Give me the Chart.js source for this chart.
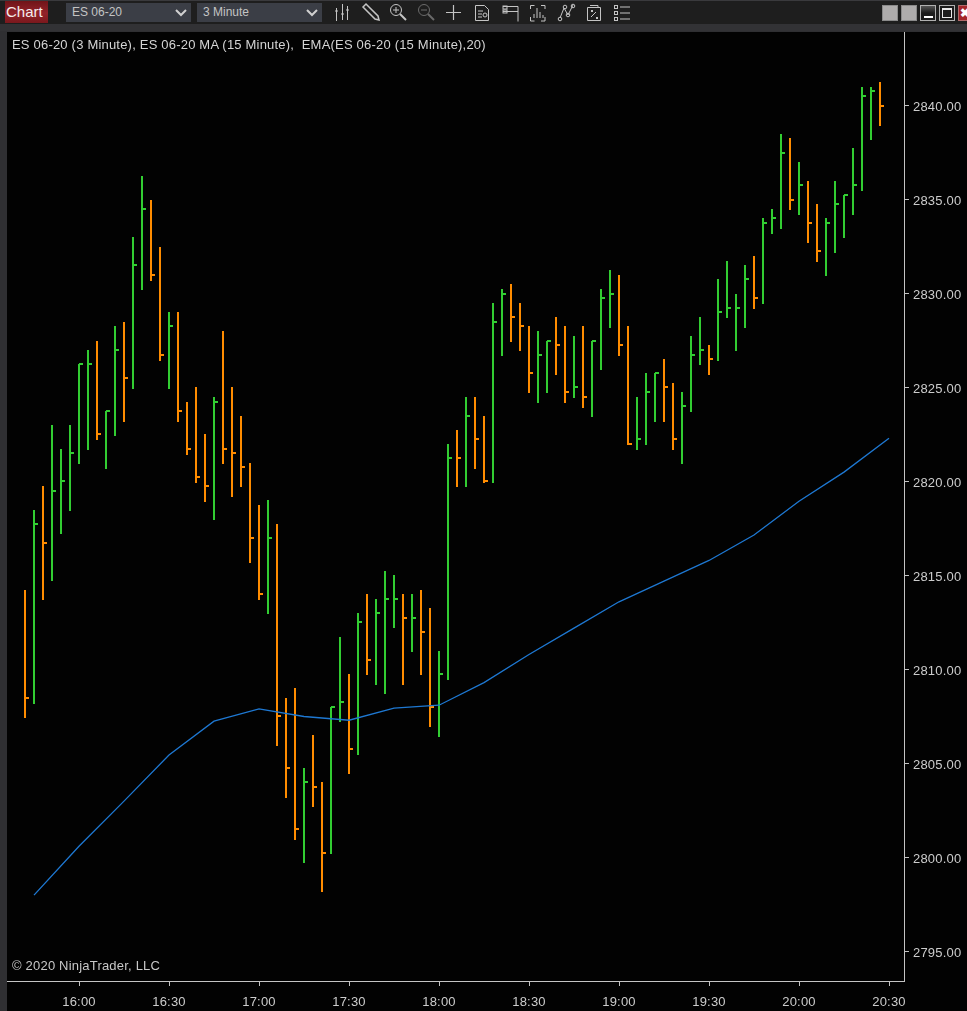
<!DOCTYPE html>
<html>
<head>
<meta charset="utf-8">
<title>ES 06-20</title>
<script src="https://cdn.jsdelivr.net/npm/chart.js@4"></script>
<style>
html,body{margin:0;padding:0;background:#2f2f32;width:967px;height:1011px;overflow:hidden;font-family:"Liberation Sans",Arial,sans-serif}
#wrap{position:relative;width:967px;height:1011px;overflow:hidden}
#plotbg{position:absolute;left:7px;top:32px;width:960px;height:979px;background:#020202}
canvas{position:absolute;left:0;top:0}
#bar{position:absolute;left:0;top:1px;width:967px;height:23px;background:#1e1e1e}
#topline{position:absolute;left:0;top:0;width:967px;height:1px;background:#3a3a3d}
#band{position:absolute;left:0;top:24px;width:967px;height:7px;background:#323235}
#brand{position:absolute;left:5px;top:1px;width:43px;height:22px;line-height:22px;color:#f4ecec;font-size:15px;background:linear-gradient(#6f1418,#93222a 55%,#7a181d);padding-left:1px;box-sizing:border-box}
.dd{position:absolute;top:3px;width:125px;height:19px;line-height:19px;background:#3b3e46;color:#c4c4c4;font-size:12px;text-indent:6px}
.dd svg{position:absolute;right:4px;top:6px}
#icons{position:absolute;left:0;top:0}
.wb{position:absolute;top:5px;width:16px;height:16px;box-sizing:border-box;border:1px solid #8a8a8a}
.t{position:absolute;color:#d4d4d4;font-size:13px;letter-spacing:.2px;white-space:pre;line-height:14px}
</style>
</head>
<body>
<div id="wrap">
<div id="plotbg"></div>
<canvas id="c" width="967" height="1011"></canvas>
<div id="topline"></div><div id="bar"></div><div id="band"></div>
<div id="brand">Chart</div>
<div class="dd" style="left:66px">ES 06-20<svg width="12" height="8"><path d="M1 1l5 5 5-5" stroke="#d0d0d0" stroke-width="2" fill="none"/></svg></div>
<div class="dd" style="left:197px">3 Minute<svg width="12" height="8"><path d="M1 1l5 5 5-5" stroke="#d0d0d0" stroke-width="2" fill="none"/></svg></div>
<svg id="icons" width="967" height="24" fill="none" stroke="#c4c4c4" stroke-width="1">
<path d="M336.5 8v13M342.5 4v16M347.5 6v14M335 11h3M341 14h3M346 10h3"/>
<path d="M363 7l3-3 12 12 1 4-4-1z" stroke-width="1.5"/>
<circle cx="396" cy="10" r="5.5"/><path d="M400 14l6 6" stroke-width="2"/><path d="M393 10h6M396 7v6"/>
<g stroke="#6a6a6a"><circle cx="424" cy="10" r="5.5"/><path d="M428 14l6 6" stroke-width="2"/><path d="M421 10h6"/></g>
<path d="M446 12.5h15M453.5 5v15" stroke-width="1.2"/>
<path d="M475.5 5.5h9l4 4v11h-13zM478 11h5M478 14h4M478 17h4"/><circle cx="485" cy="15" r="2"/>
<path d="M503 6.5h15v15M503 11.5h15" /><rect x="503" y="6" width="4" height="3"/><rect x="503" y="10" width="4" height="3"/>
<path d="M530.5 9V5.5h4M541 5.5h4V9M530.5 17v4h4M541 21h4v-4M534 18v-4M537 18V8M540 18v-6M543 18v-3" />
<path d="M560 18l4-10 4 7 5-10"/><circle cx="560" cy="19" r="1.8"/><circle cx="565" cy="7" r="1.8"/><circle cx="568" cy="15" r="1.8"/><circle cx="573" cy="6" r="1.8"/>
<path d="M587.5 7.5h13v13h-13zM590 5.5h8v2M591 10l2 2M593 10l-2 2M596 17l2 2M598 17l-2 2M591 17l5-5"/>
<rect x="614.5" y="5.5" width="3" height="3"/><rect x="614.5" y="11.5" width="3" height="3"/><rect x="614.5" y="17.5" width="3" height="3"/><path d="M620 7h10M620 13h10M620 19h10"/>
</svg>
<div class="wb" style="left:882px;background:#aeacac"></div>
<div class="wb" style="left:901px;background:#aeacac"></div>
<div class="wb" style="left:920px;background:linear-gradient(#555,#1b1b1b 50%);border-color:#b0b0b0"><div style="position:absolute;left:3px;top:10px;width:9px;height:2px;background:#fff"></div></div>
<div class="wb" style="left:939px;background:#1b1b1b;border-color:#b0b0b0"><div style="position:absolute;left:2px;top:2px;width:10px;height:10px;border:1px solid #e8e8e8;border-top-width:2px;box-sizing:border-box"></div></div>
<div class="wb" style="left:958px;width:12px;background:#a3252a;border-color:#b06a6a"><div style="position:absolute;left:1px;top:1px;color:#fff;font-size:12px;line-height:12px;font-weight:bold">&#10006;</div></div>
<div class="t" style="left:12px;top:38px">ES 06-20 (3 Minute), ES 06-20 MA (15 Minute),  EMA(ES 06-20 (15 Minute),20)</div>
<div class="t" style="left:12px;top:959px;color:#c8c8c8">© 2020 NinjaTrader, LLC</div>
</div>
<script>
// Bars are 3 minutes apart; first bar is 15:42, last is 20:27 (minutes after midnight).
const firstBarMinute = 942;
const barStepMinutes = 3;
const highs = [2814.25,2818.5,2819.75,2823,2821.75,2823,2826.25,2827,2827.5,2823.75,2828.25,2828.5,2833,2836.25,2835,2832.5,
2829,2829,2824.25,2825,2822.5,2824.5,2828,2825,2823.5,2821,2818.75,2819,2817.75,2808.5,2809,2804.75,
2806.5,2804,2808,2811.75,2809.75,2813,2814,2813.75,2815.25,2815,2814,2814,2814.25,2813.25,2811,2822,
2822.75,2824.5,2824.5,2823.5,2829.5,2830.25,2830.5,2829.5,2828.25,2828,2827.5,2828.75,2828.25,2827.75,2828.25,2827.5,
2830.25,2831.25,2831,2828.25,2824.5,2825.75,2825.75,2826.5,2825.25,2824.75,2827.75,2828.75,2827.25,2830.75,2831.75,2830,
2831.5,2832,2834,2834.5,2838.5,2838.25,2837,2836,2834.75,2834,2836,2835.25,2837.75,2841,2841,2841.25];
const lows = [2807.5,2808.25,2813.75,2814.75,2817.25,2818.5,2821,2821.75,2822.25,2820.75,2822.5,2823.25,2825,2830.25,2830.75,2826.5,
2825,2823.25,2821.5,2820,2819,2818,2821,2819.25,2819.75,2815.75,2813.75,2813,2806,2803.25,2801,2799.75,
2802.75,2798.25,2800.25,2807.25,2804.5,2805.5,2809.75,2809.25,2808.75,2812.25,2809.25,2811,2809.75,2807,2806.5,2809.5,
2819.75,2819.75,2820.75,2820,2820,2826.75,2827.5,2827,2824.75,2824.25,2824.75,2825.75,2824.25,2824.5,2824,2823.5,
2826,2828.25,2826.75,2822,2821.75,2822,2823.25,2823.25,2821.75,2821,2823.75,2826.25,2825.75,2826.5,2828.75,2827,
2828.25,2829.25,2829.5,2833.25,2833.5,2834.5,2834.25,2832.75,2831.75,2831,2832.25,2833,2834.25,2835.5,2838.25,2839];
const closes = [2808.5,2817.75,2816.75,2819.5,2820,2821.5,2826.25,2826.25,2822.5,2823.75,2827,2825.5,2831.5,2834.5,2831,2826.75,
2828.25,2823.75,2821.75,2820.25,2819.75,2824.25,2821.75,2821.5,2820.75,2817,2814,2817,2807.5,2804.75,2801.5,2804,
2803.75,2800.25,2808,2808.25,2805.75,2812.5,2810.5,2813,2813.75,2813.75,2812.75,2812.75,2812,2808,2809.75,2821.25,
2821.25,2823.5,2822.25,2820,2828.5,2830,2828.75,2828.25,2825.75,2826.75,2827.5,2827.25,2824.75,2825,2824.5,2827.5,
2829.75,2830,2827.25,2822,2822.25,2824.75,2825.75,2825,2822.25,2824,2826.75,2827,2826.5,2829,2829.25,2829.25,
2830.75,2829.75,2833.75,2834,2837.5,2835,2835.75,2833.75,2832.25,2833.75,2834.75,2835.25,2835.75,2840.5,2840.75,2840];
// 1 = rising bar (green), 0 = falling bar (orange)
const rising = [0,1,0,1,1,1,1,1,0,1,1,0,1,1,0,0,
1,0,0,0,0,1,0,0,0,0,0,1,0,0,0,1,
0,0,1,1,0,1,0,1,1,1,0,1,0,0,1,1,
0,1,0,0,1,1,0,0,0,1,1,0,0,1,0,1,
1,1,0,0,1,1,1,0,0,1,1,1,0,1,1,1,
1,0,1,1,1,0,1,0,0,1,1,1,1,1,1,0];
const emaMinutes = [945,960,975,990,1005,1020,1035,1050,1065,1080,1095,1110,1125,1140,1155,1170,1185,1200,1215,1230];
const emaValues = [2798,2800.6,2803,2805.45,2807.25,2807.9,2807.5,2807.3,2807.95,2808.1,2809.3,2810.8,2812.2,2813.6,2814.7,2815.8,2817.15,2818.95,2820.5,2822.3];
const priceTicks = [2795,2800,2805,2810,2815,2820,2825,2830,2835,2840];
const timeTicks = ['16:00','16:30','17:00','17:30','18:00','18:30','19:00','19:30','20:00','20:30'];

const GREEN = '#32cd32', ORANGE = '#ff8c00', BLUE = '#1e78d2', AXIS = '#c4c4c4', LABEL = '#cccccc';
const labelFont = {family:'"Liberation Sans",Arial,sans-serif', size:13};
const minuteOf = i => firstBarMinute + i * barStepMinutes;
const colorOf = i => rising[i] ? GREEN : ORANGE;

function closeMark(color){
  const cv = document.createElement('canvas');
  cv.width = 10; cv.height = 2;
  const g = cv.getContext('2d');
  g.fillStyle = color;
  g.fillRect(5, 0, 4, 2);
  return cv;
}
const markGreen = closeMark(GREEN), markOrange = closeMark(ORANGE);

// Pixel-snap the marks (the terminal draws on whole pixels) and nudge axis label text.
const crispPlugin = {
  id:'crisp',
  beforeDatasetsDraw(chart){
    chart.data.datasets.forEach((ds,i)=>{
      const meta = chart.getDatasetMeta(i);
      if(ds.type==='scatter') meta.data.forEach(p=>{p.x=Math.round(p.x);p.y=Math.round(p.y);});
      if(ds.type==='bar') meta.data.forEach(b=>{b.x=Math.round(b.x);b.y=Math.round(b.y);b.base=Math.round(b.base+1.3);});
    });
  },
  afterLayout(chart){
    Object.values(chart.scales).forEach(s=>{
      if(s._patched) return; s._patched = true;
      const orig = s.drawLabels, dy = s.axis==='y' ? 2 : 0;
      s.drawLabels = function(a){
        const c = this.ctx; c.save(); c.translate(0,dy); c.letterSpacing='0.2px';
        orig.call(this,a); c.restore();
      };
    });
  }
};

new Chart(document.getElementById('c'), {
  plugins:[crispPlugin],
  data: {
    datasets: [
      { type:'line', order:0, label:'EMA', data: emaMinutes.map((m,i)=>({x:m,y:emaValues[i]})),
        borderColor:BLUE, borderWidth:1.3, pointRadius:0, tension:0, fill:false },
      { type:'scatter', order:1, label:'Close', data: closes.map((c,i)=>({x:minuteOf(i),y:c})),
        pointStyle: ctx => rising[ctx.dataIndex] ? markGreen : markOrange, pointRadius:5, pointHoverRadius:5 },
      { type:'bar', order:2, label:'High-Low', data: highs.map((h,i)=>({x:minuteOf(i),y:[lows[i],h]})),
        backgroundColor: ctx => colorOf(ctx.dataIndex), barThickness:2, borderWidth:0, borderSkipped:false, inflateAmount:0 }
    ]
  },
  options: {
    responsive:false, animation:false, devicePixelRatio:1,
    layout:{padding:{left:7,top:32,right:0,bottom:0}},
    plugins:{legend:{display:false},title:{display:false},tooltip:{enabled:false}},
    events:[],
    scales:{
      x:{ type:'linear', min:936, max:1235, offset:false,
        afterFit:s=>{s.height=30;},
        grid:{drawOnChartArea:false,drawTicks:true,tickLength:5,color:AXIS,offset:false},
        border:{color:AXIS,width:1},
        ticks:{stepSize:30,includeBounds:false,maxRotation:0,autoSkip:false,padding:9,color:LABEL,font:labelFont,
          callback:v=>{const k=(v-960)/30;return timeTicks[k]!==undefined?timeTicks[k]:'';}}
      },
      y:{ type:'linear', position:'right', min:2793.43, max:2843.91,
        afterFit:s=>{s.width=63;},
        afterBuildTicks:s=>{s.ticks=priceTicks.map(v=>({value:v}));},
        grid:{drawOnChartArea:false,drawTicks:true,tickLength:5,color:AXIS},
        border:{color:AXIS,width:1},
        ticks:{includeBounds:false,padding:4,color:LABEL,font:labelFont,callback:v=>v.toFixed(2)}
      }
    }
  }
});
</script>
</body>
</html>
